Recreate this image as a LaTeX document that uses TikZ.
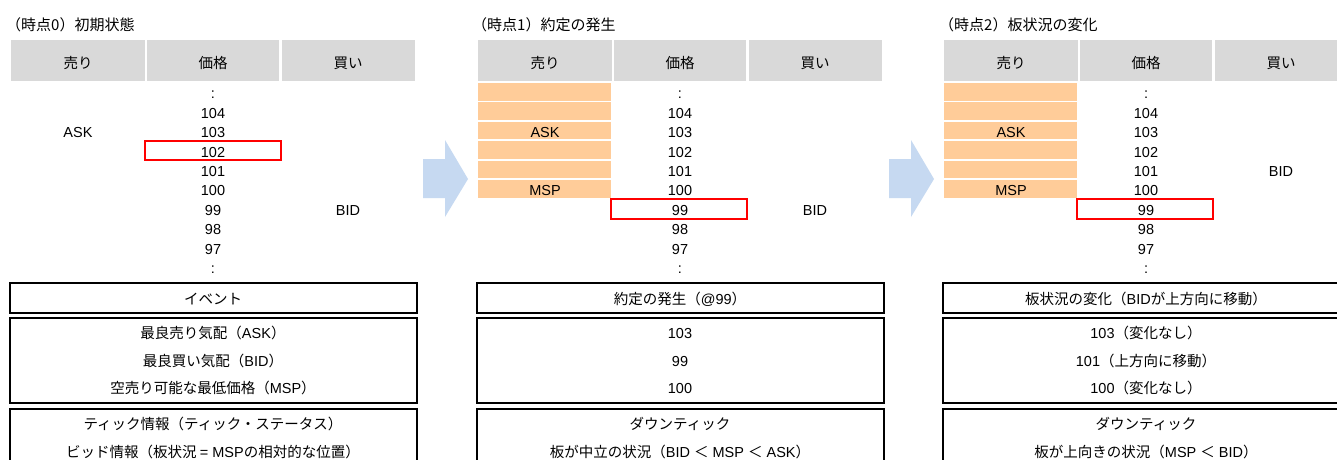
\documentclass[tikz,border=0pt]{standalone}
\usepackage{fontspec}
\setmainfont{Liberation Sans}
\newfontfamily\jp{Noto Sans CJK JP}
\definecolor{hdrgray}{HTML}{D9D9D9}
\definecolor{orangecell}{HTML}{FFCC99}
\definecolor{arrowblue}{HTML}{C6D9F1}
\tikzset{
  txt/.style={anchor=base, inner sep=0pt, font=\fontsize{14.5}{17}\selectfont},
  ttl/.style={anchor=base west, inner sep=0pt, font=\fontsize{15}{18}\selectfont},
  hdrcell/.style={fill=hdrgray},
  orgcell/.style={fill=orangecell},
  redbox/.style={draw=red, line width=1.5pt},
  infobox/.style={draw=black, line width=2pt},
  bigarrow/.style={fill=arrowblue},
}
% #1 id, #2 x0
\newcommand\orderbook[2]{%
  \fill[hdrcell] (#2,40) rectangle ++(134,41);
  \fill[hdrcell] (#2+136,40) rectangle ++(132,41);
  \fill[hdrcell] (#2+271,40) rectangle ++(133,41);
  \node[txt] (#1h1) at (#2+67,68.5) {\jp 売り};
  \node[txt] (#1h2) at (#2+202,68.5) {\jp 価格};
  \node[txt] (#1h3) at (#2+337,68.5) {\jp 買い};
  \foreach \k/\p in {0/:,1/104,2/103,3/102,4/101,5/100,6/99,7/98,8/97,9/:}
    \node[txt] (#1p\k) at (#2+202,98.8+19.4*\k) {\p};
  \draw[infobox] (#2-1,283) rectangle (#2+406,313);
  \draw[infobox] (#2-1,318) rectangle (#2+406,403);
  \draw[infobox] (#2-1,409) rectangle (#2+406,480);
}
\newcommand\orangecol[1]{%
  \foreach \k in {0,...,5}
    \fill[orgcell] (#1,83+19.4*\k) rectangle (#1+133,100.5+19.4*\k);
}
\begin{document}
\begin{tikzpicture}[x=1pt,y=-1pt]
\clip (0,0) rectangle (1337,459);
\fill[white] (0,0) rectangle (1337,459);

% ---------- panel 1 ----------
\node[ttl] (t1) at (6,30.5) {\jp （時点0）初期状態};
\orderbook{a}{11}
\node[txt] (aask) at (78,98.8+19.4*2) {ASK};
\node[txt] (abid) at (348,98.8+19.4*6) {BID};
\draw[redbox] (145,141) rectangle (281,160);
\node[txt] (aev) at (213,304) {\jp イベント};
\node[txt] (ar1) at (213,338.5) {\jp 最良売り気配（\rmfamily ASK\jp ）};
\node[txt] (ar2) at (213,366.5) {\jp 最良買い気配（\rmfamily BID\jp ）};
\node[txt] (ar3) at (213,393) {\jp 空売り可能な最低価格（\rmfamily MSP\jp ）};
\node[txt] (ar4) at (213,429) {\jp ティック情報（ティック・ステータス）};
\node[txt] (ar5) at (213,457.5) {\jp ビッド情報（板状況 \rmfamily = MSP\jp の相対的な位置）};

% ---------- arrow 1 ----------
\fill[bigarrow] (423,159) -- (445,159) -- (445,140) -- (468,179) -- (445,217) -- (445,198) -- (423,198) -- cycle;

% ---------- panel 2 ----------
\node[ttl] (t2) at (472,30.5) {\jp （時点1）約定の発生};
\orangecol{478}
\orderbook{b}{478}
\node[txt] (bask) at (545,98.8+19.4*2) {ASK};
\node[txt] (bmsp) at (545,98.8+19.4*5) {MSP};
\node[txt] (bbid) at (815,98.8+19.4*6) {BID};
\draw[redbox] (611,199) rectangle (747,219);
\node[txt] (bev) at (680,304) {\jp 約定の発生（\rmfamily @99\jp ）};
\node[txt] (br1) at (680,338.5) {103};
\node[txt] (br2) at (680,366.5) {99};
\node[txt] (br3) at (680,393) {100};
\node[txt] (br4) at (680,429) {\jp ダウンティック};
\node[txt] (br5) at (680,457.5) {\jp 板が中立の状況（\rmfamily BID \jp ＜\rmfamily{} MSP \jp ＜\rmfamily{} ASK\jp ）};

% ---------- arrow 2 ----------
\fill[bigarrow] (889,159) -- (911,159) -- (911,140) -- (934,179) -- (911,217) -- (911,198) -- (889,198) -- cycle;

% ---------- panel 3 ----------
\node[ttl] (t3) at (939,30.5) {\jp （時点2）板状況の変化};
\orangecol{944}
\orderbook{c}{944}
\node[txt] (cask) at (1011,98.8+19.4*2) {ASK};
\node[txt] (cmsp) at (1011,98.8+19.4*5) {MSP};
\node[txt] (cbid) at (1281,98.8+19.4*4) {BID};
\draw[redbox] (1077,199) rectangle (1213,219);
\node[txt] (cev) at (1146,304) {\jp 板状況の変化（\rmfamily BID\jp が上方向に移動）};
\node[txt] (cr1) at (1146,338.5) {103\jp （変化なし）};
\node[txt] (cr2) at (1146,366.5) {101\jp （上方向に移動）};
\node[txt] (cr3) at (1146,393) {100\jp （変化なし）};
\node[txt] (cr4) at (1146,429) {\jp ダウンティック};
\node[txt] (cr5) at (1146,457.5) {\jp 板が上向きの状況（\rmfamily MSP \jp ＜\rmfamily{} BID\jp ）};
\end{tikzpicture}
\end{document}
